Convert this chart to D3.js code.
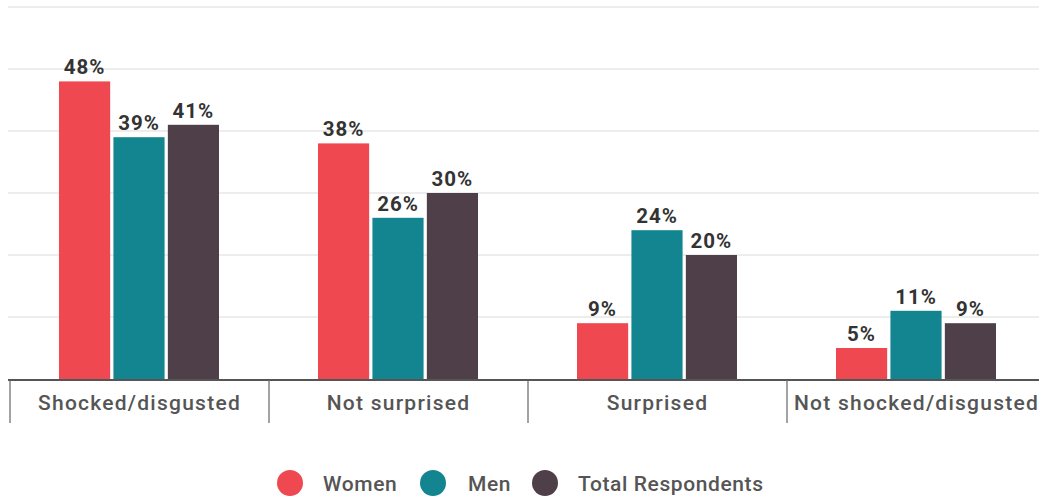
<!DOCTYPE html>
<html><head><meta charset="utf-8">
<script src="https://cdn.jsdelivr.net/npm/d3@7"></script>
<style>body{margin:0;background:#fff;font-family:Roboto,"Open Sans",sans-serif;}</style>
</head><body><svg id="c" width="1039" height="499"></svg>
<script>
const categories = ["Shocked/disgusted","Not surprised","Surprised","Not shocked/disgusted"];
const seriesNames = ["Women","Men","Total Respondents"];
const women = [48,38,9,5];
const men = [39,26,24,11];
const total = [41,30,20,9];
const colors = ["#ef4850","#138590","#4f3f48"];
const yTicks = [0,10,20,30,40,50,60];

const svg = d3.select("#c");
const series = [women, men, total];
const x0 = d3.scaleBand().domain(categories).range([10, 10+4*259]).padding(0);
const x1 = d3.scaleBand().domain(seriesNames).range([49, 209]).paddingInner(0.06).paddingOuter(0);
const y = d3.scaleLinear().domain([0,60]).range([379,7]);

// gridlines
svg.append("g").selectAll("line").data(yTicks.filter(d=>d>0)).join("line")
  .attr("x1",8).attr("x2",1039).attr("y1",d=>y(d)).attr("y2",d=>y(d))
  .attr("stroke","#dcdcdc").attr("stroke-width",1.2);

// bars
const g = svg.append("g");
categories.forEach((c,ci)=>{
  seriesNames.forEach((s,si)=>{
    const v = series[si][ci];
    const bx = x0(c)+x1(s);
    g.append("rect").attr("x",bx).attr("y",y(v)).attr("width",x1.bandwidth())
      .attr("height",y(0)-y(v)).attr("fill",colors[si]);
    g.append("text").attr("x",bx+x1.bandwidth()/2).attr("y",y(v)-7)
      .attr("text-anchor","middle").attr("font-size",20.5).attr("font-weight",700)
      .attr("letter-spacing",1).attr("fill","#333").text(v+"%");
  });
});

// baseline
svg.append("line").attr("x1",8).attr("x2",1039).attr("y1",y(0)+1).attr("y2",y(0)+1)
  .attr("stroke","#555").attr("stroke-width",2);
// tick separators
const seps = categories.map(c=>x0(c));
svg.append("g").selectAll("line").data(seps).join("line")
  .attr("x1",d=>d).attr("x2",d=>d).attr("y1",y(0)+1).attr("y2",423)
  .attr("stroke","#666").attr("stroke-width",1.2);
// category labels
svg.append("g").selectAll("text").data(categories).join("text")
  .attr("x",d=>x0(d)+x0.bandwidth()/2).attr("y",410)
  .attr("text-anchor","middle").attr("font-size",21).attr("font-weight",500)
  .attr("letter-spacing",1.25).attr("fill","#555").text(d=>d);

// legend
const legX = [290, 433, 545];
const legTX = [323, 468, 578];
const lg = svg.append("g");
seriesNames.forEach((s,i)=>{
  lg.append("circle").attr("cx",legX[i]).attr("cy",483).attr("r",13).attr("fill",colors[i]);
  lg.append("text").attr("x",legTX[i]).attr("y",490.5).attr("font-size",21).attr("font-weight",500)
    .attr("letter-spacing",0.6).attr("fill","#555").text(s);
});
</script></body></html>
